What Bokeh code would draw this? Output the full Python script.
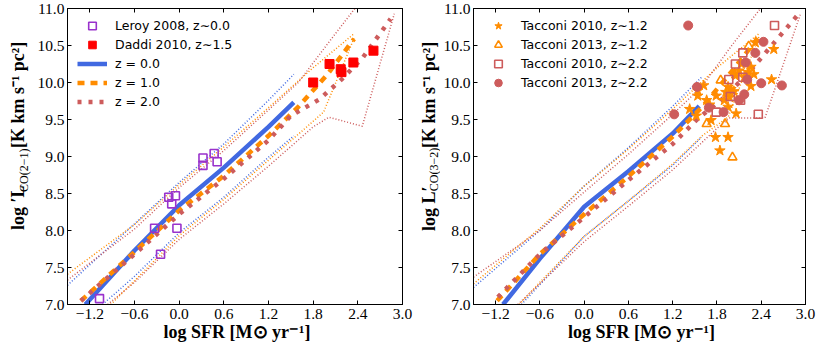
import math
from bokeh.plotting import figure
from bokeh.models import Range1d, FixedTicker, LinearAxis, Legend, LegendItem
from bokeh.layouts import row
from bokeh.core.properties import value
from bokeh.embed import file_html
from bokeh.resources import INLINE

# ---------------- ticks ----------------
X_TICKS = [-1.2, -0.6, 0.0, 0.6, 1.2, 1.8, 2.4, 3.0]
X_TICK_LABELS = ["−1.2", "−0.6", "0.0", "0.6", "1.2", "1.8", "2.4", "3.0"]
Y_TICKS = [7.0, 7.5, 8.0, 8.5, 9.0, 9.5, 10.0, 10.5, 11.0]
Y_TICK_LABELS = ["7.0", "7.5", "8.0", "8.5", "9.0", "9.5", "10.0", "10.5", "11.0"]

# ---------------- left panel: CO(2-1) ----------------
LEROY_SFR = [-1.07, -0.33, -0.25, -0.14, -0.05, -0.10, -0.03, 0.32, 0.32, 0.47, 0.51]
LEROY_LCO = [7.08, 8.03, 7.68, 8.45, 8.47, 8.36, 8.03, 8.98, 8.88, 9.04, 8.93]
DADDI_SFR = [1.80, 2.02, 2.17, 2.18, 2.34, 2.61]
DADDI_LCO = [10.00, 10.25, 10.18, 10.14, 10.27, 10.43]

L_Z0_X = [-1.26, -0.6, 0.0, 0.6, 1.2, 1.54]
L_Z0_MED = [7.00, 7.73, 8.34, 8.85, 9.40, 9.73]
L_Z0_UP_X = [-1.5, -0.6, 0.0, 0.6, 1.2, 1.54]
L_Z0_UP = [7.26, 8.09, 8.65, 9.17, 9.76, 10.11]
L_Z0_LO_X = [-1.03, -0.6, 0.0, 0.6, 1.2, 1.54]
L_Z0_LO = [7.00, 7.38, 7.97, 8.45, 8.99, 9.28]

L_Z1_X = [-1.32, -0.6, 0.0, 0.6, 1.2, 1.6, 2.0, 2.35]
L_Z1_MED = [7.05, 7.71, 8.27, 8.74, 9.28, 9.67, 10.12, 10.59]
L_Z1_UP_X = [-1.5, -0.6, 0.0, 0.6, 1.2, 1.8, 2.35]
L_Z1_UP = [7.41, 8.08, 8.62, 9.13, 9.66, 10.20, 10.66]
L_Z1_LO_X = [-0.92, -0.6, 0.0, 0.6, 1.2, 1.6, 1.94, 2.35]
L_Z1_LO = [7.00, 7.32, 7.93, 8.42, 8.95, 9.30, 9.60, 10.60]

L_Z2_X = [-1.32, -0.6, 0.0, 0.6, 1.2, 1.5, 1.88, 2.19, 2.47, 2.84]
L_Z2_MED = [7.05, 7.68, 8.22, 8.70, 9.22, 9.55, 9.77, 10.05, 10.34, 10.86]
L_Z2_UP_X = [-1.5, -0.6, 0.0, 0.6, 1.2, 1.6, 2.03, 2.36]
L_Z2_UP = [7.33, 8.02, 8.58, 9.08, 9.63, 10.00, 10.57, 11.00]
L_Z2_LO_X = [-0.96, -0.6, 0.0, 0.6, 1.2, 1.8, 2.01, 2.46, 2.89]
L_Z2_LO = [7.00, 7.30, 7.88, 8.36, 8.87, 9.40, 9.53, 9.41, 10.93]

# ---------------- right panel: CO(3-2) ----------------
T10_Z12_SFR = [1.43, 1.52, 1.54, 1.54, 1.62, 1.66, 1.79, 1.72, 1.78, 1.95, 1.84, 1.95, 2.06,
               1.95, 1.99, 2.05, 2.10, 2.17, 2.26, 2.30, 2.26, 2.32, 2.57, 2.54, 1.92, 2.03,
               1.97, 2.13, 1.70, 2.22, 2.04, 1.90]
T10_Z12_LCO = [9.64, 9.55, 9.89, 9.82, 9.96, 9.76, 9.82, 9.49, 9.26, 9.26, 9.08, 9.67, 9.58,
               9.94, 9.91, 10.09, 10.16, 10.07, 10.21, 10.11, 9.95, 10.54, 10.45, 10.04, 9.87, 9.88,
               9.80, 10.25, 9.70, 10.14, 10.12, 9.76]
T13_Z12_SFR = [1.85, 2.23, 1.66, 1.91, 2.01]
T13_Z12_LCO = [10.03, 10.49, 9.44, 9.44, 8.99]
T10_Z22_SFR = [2.58, 2.15, 2.05, 1.96, 2.15, 1.98, 1.79, 2.36, 2.12]
T10_Z22_LCO = [10.77, 10.40, 10.25, 10.04, 10.07, 9.81, 9.60, 9.57, 9.76]
T13_Z22_SFR = [1.41, 2.43, 2.32, 2.19, 2.21, 2.40, 2.68, 2.17, 2.10, 1.53, 1.69, 1.22, 1.89]
T13_Z22_LCO = [10.77, 10.55, 10.40, 10.27, 10.04, 9.99, 9.96, 9.84, 9.76, 9.94, 9.66, 9.57, 9.60]

R_Z0_X = [-1.10, -0.6, 0.0, 0.6, 1.2, 1.56]
R_Z0_MED = [7.00, 7.62, 8.32, 8.80, 9.31, 9.68]
R_Z0_UP_X = [-1.5, -0.6, 0.0, 0.6, 1.2, 1.59]
R_Z0_UP = [7.23, 8.00, 8.60, 9.12, 9.68, 10.07]
R_Z0_LO_X = [-0.85, -0.6, 0.0, 0.6, 1.2, 1.59]
R_Z0_LO = [7.00, 7.27, 7.92, 8.40, 8.88, 9.26]

R_Z1_X = [-1.18, -0.6, 0.0, 0.6, 1.2, 1.6, 2.0, 2.37]
R_Z1_MED = [7.05, 7.68, 8.22, 8.73, 9.27, 9.67, 10.15, 10.62]
R_Z1_UP_X = [-1.5, -0.6, 0.0, 0.6, 1.2, 1.8, 2.37]
R_Z1_UP = [7.28, 8.03, 8.60, 9.10, 9.64, 10.20, 10.66]
R_Z1_LO_X = [-0.88, -0.6, 0.0, 0.6, 1.2, 1.6, 1.95, 2.37]
R_Z1_LO = [7.00, 7.30, 7.92, 8.40, 8.90, 9.28, 9.53, 10.62]

R_Z2_X = [-1.17, -0.6, 0.0, 0.6, 1.2, 1.55, 1.9, 2.2, 2.5, 2.91]
R_Z2_MED = [7.10, 7.68, 8.18, 8.68, 9.17, 9.52, 9.80, 10.10, 10.45, 10.93]
R_Z2_UP_X = [-1.5, -0.6, 0.0, 0.6, 1.2, 1.6, 2.0, 2.39]
R_Z2_UP = [7.37, 8.00, 8.52, 9.03, 9.57, 9.95, 10.50, 11.00]
R_Z2_LO_X = [-0.90, -0.6, 0.0, 0.6, 1.2, 1.8, 1.97, 2.45, 2.93]
R_Z2_LO = [7.00, 7.28, 7.85, 8.33, 8.82, 9.38, 9.52, 9.52, 10.92]

# y-axis title pieces (main text, subscript, unit text)
L_YTITLE = ["log ′L", "CO(2−1)", "[K km s⁻¹ pc²]"]
R_YTITLE = ["log L′", "CO(3−2)", "[K km s⁻¹ pc²]"]
X_TITLE = "log SFR [M⊙ yr⁻¹]"

SERIF = "Liberation Serif"
SANS = "DejaVu Sans"
BLUE, ORANGE, RED, PURPLE, PURE_RED = "#4169E1", "#FF8C00", "#CD5C5C", "#9932CC", "#FF0000"
H = 350


def base_fig(width, border_left, border_right):
    p = figure(width=width, height=H, x_range=Range1d(-1.5, 3.0), y_range=Range1d(7.0, 11.0),
               output_backend="svg", toolbar_location=None,
               min_border_left=border_left, min_border_right=border_right,
               min_border_top=8, min_border_bottom=46,
               background_fill_color="white", border_fill_color="white")
    p.xgrid.visible = False
    p.ygrid.visible = False
    p.outline_line_color = "black"
    p.outline_line_width = 1
    p.outline_line_alpha = 1.0
    top = LinearAxis()
    right = LinearAxis()
    p.add_layout(top, "above")
    p.add_layout(right, "right")
    xo = dict(zip(X_TICKS, X_TICK_LABELS))
    yo = dict(zip(Y_TICKS, Y_TICK_LABELS))
    for ax in p.xaxis:
        ax.ticker = FixedTicker(ticks=X_TICKS)
        ax.major_label_overrides = xo
        ax.major_label_standoff = 4
    for ax in p.yaxis:
        ax.ticker = FixedTicker(ticks=Y_TICKS)
        ax.major_label_overrides = yo
        ax.major_label_standoff = 3
    for ax in list(p.xaxis) + list(p.yaxis):
        ax.major_tick_in = 4
        ax.major_tick_out = 0
        ax.minor_tick_line_color = None
        ax.axis_line_color = "black"
        ax.major_tick_line_color = "black"
        ax.major_label_text_font = SERIF
        ax.major_label_text_font_size = "15.5px"
        ax.major_label_text_color = "black"
    for ax in (top, right):
        ax.major_label_text_font_size = "0px"
        ax.major_label_text_color = None
        ax.major_label_standoff = 0
    xb = p.below[0]
    xb.axis_label = X_TITLE
    xb.axis_label_text_font = SERIF
    xb.axis_label_text_font_size = "18px"
    xb.axis_label_text_font_style = "bold"
    xb.axis_label_text_color = "black"
    xb.axis_label_standoff = 0
    return p


def title_fig(width, pieces, main_x, sub_x, starts):
    """Narrow strip holding the vertical y-axis title (pixel coordinates)."""
    t = figure(width=width, height=H, x_range=Range1d(0, width), y_range=Range1d(0, H),
               output_backend="svg", toolbar_location=None, min_border=0,
               x_axis_type=None, y_axis_type=None,
               background_fill_color="white", border_fill_color="white")
    t.outline_line_color = None
    t.xgrid.visible = False
    t.ygrid.visible = False
    main, sub, unit = pieces
    t.text(x=[main_x, main_x], y=[H - starts[0], H - starts[2]], text=[main, unit],
           angle=math.pi / 2, text_align="left", text_baseline="middle",
           text_font=value(SERIF), text_font_size=value("18px"), text_font_style="bold",
           text_color="black")
    t.text(x=[sub_x], y=[H - starts[1]], text=[sub],
           angle=math.pi / 2, text_align="left", text_baseline="middle",
           text_font=value(SERIF), text_font_size=value("12px"), text_color="black")
    return t


def models(p, sets):
    for xs, ys, color in sets["env"]:
        p.line(xs, ys, line_color=color, line_width=1.5, line_dash="1 2")
    r0 = p.line(sets["z0"][0], sets["z0"][1], line_color=BLUE, line_width=4.5)
    r1 = p.line(sets["z1"][0], sets["z1"][1], line_color=ORANGE, line_width=4.5, line_dash="7 6")
    r2 = p.line(sets["z2"][0], sets["z2"][1], line_color=RED, line_width=4.5, line_dash="4 7")
    return r0, r1, r2


def make_legend(items, n):
    return Legend(items=items, location=(10, 288 - 19 * n),
                  border_line_color=None, background_fill_alpha=0,
                  padding=0, margin=0, spacing=0, glyph_width=30, glyph_height=19,
                  label_height=19, label_standoff=8, label_text_font=SANS,
                  label_text_font_size="12.5px", label_text_color="black")


# ---------------- left figure ----------------
t1 = title_fig(33, L_YTITLE, 17, 23.5, (262, 217, 165))
p1 = base_fig(382, 34, 13)
r0, r1, r2 = models(p1, {
    "env": [(L_Z0_UP_X, L_Z0_UP, BLUE), (L_Z0_LO_X, L_Z0_LO, BLUE),
            (L_Z1_UP_X, L_Z1_UP, ORANGE), (L_Z1_LO_X, L_Z1_LO, ORANGE),
            (L_Z2_UP_X, L_Z2_UP, RED), (L_Z2_LO_X, L_Z2_LO, RED)],
    "z0": (L_Z0_X, L_Z0_MED), "z1": (L_Z1_X, L_Z1_MED), "z2": (L_Z2_X, L_Z2_MED)})
r_ler = p1.scatter(LEROY_SFR, LEROY_LCO, marker="square", size=8, fill_color=None,
                   line_color=PURPLE, line_width=1.6)
r_dad = p1.scatter(DADDI_SFR, DADDI_LCO, marker="square", size=9, fill_color=PURE_RED,
                   line_color=PURE_RED, line_width=1)
p1.add_layout(make_legend([
    LegendItem(label="Leroy 2008, z∼0.0", renderers=[r_ler]),
    LegendItem(label="Daddi 2010, z∼1.5", renderers=[r_dad]),
    LegendItem(label="z = 0.0", renderers=[r0]),
    LegendItem(label="z = 1.0", renderers=[r1]),
    LegendItem(label="z = 2.0", renderers=[r2]),
], 5))

# ---------------- right figure ----------------
t2 = title_fig(25, R_YTITLE, 13, 18, (263, 216, 165))
p2 = base_fig(390, 29, 25)
models(p2, {
    "env": [(R_Z0_UP_X, R_Z0_UP, BLUE), (R_Z0_LO_X, R_Z0_LO, BLUE),
            (R_Z1_UP_X, R_Z1_UP, ORANGE), (R_Z1_LO_X, R_Z1_LO, ORANGE),
            (R_Z2_UP_X, R_Z2_UP, RED), (R_Z2_LO_X, R_Z2_LO, RED)],
    "z0": (R_Z0_X, R_Z0_MED), "z1": (R_Z1_X, R_Z1_MED), "z2": (R_Z2_X, R_Z2_MED)})
r_s = p2.scatter(T10_Z12_SFR, T10_Z12_LCO, marker="star", size=11, fill_color=ORANGE,
                 line_color=ORANGE, line_width=1)
r_t = p2.scatter(T13_Z12_SFR, T13_Z12_LCO, marker="triangle", size=9, fill_color=None,
                 line_color=ORANGE, line_width=1.6)
r_q = p2.scatter(T10_Z22_SFR, T10_Z22_LCO, marker="square", size=8, fill_color=None,
                 line_color=RED, line_width=1.6)
r_c = p2.scatter(T13_Z22_SFR, T13_Z22_LCO, marker="circle", size=9, fill_color=RED,
                 line_color=RED, line_width=1)
p2.add_layout(make_legend([
    LegendItem(label="Tacconi 2010, z∼1.2", renderers=[r_s]),
    LegendItem(label="Tacconi 2013, z∼1.2", renderers=[r_t]),
    LegendItem(label="Tacconi 2010, z∼2.2", renderers=[r_q]),
    LegendItem(label="Tacconi 2013, z∼2.2", renderers=[r_c]),
], 4))

layout = row(t1, p1, t2, p2)
open("out.html", "w").write(file_html(layout, INLINE))
